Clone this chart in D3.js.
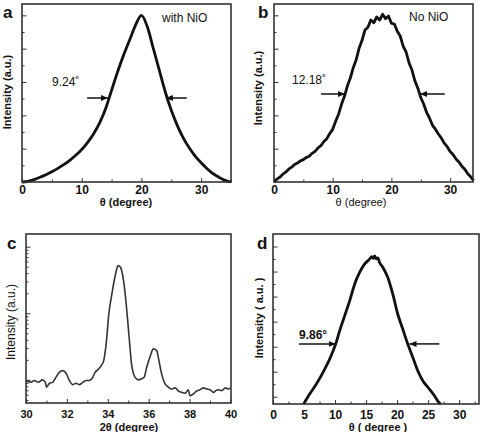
<!DOCTYPE html>
<html>
<head>
<meta charset="utf-8">
<script src="https://cdn.jsdelivr.net/npm/d3@7"></script>
<style>
  body { margin: 0; background: #fff; }
  svg { font-family: "Liberation Sans", Arial, sans-serif; }
</style>
</head>
<body>
<svg id="fig" width="484" height="432"></svg>
<script>
// ---- DATA ----

// a: with NiO
const thetaA = [0,1,2,3,4,5,6,7,8,9,10,11,12,13,14,15,16,17,18,19,20,21,22,23,24,25,26,27,28,29,30,31,32,33,34,35];
const intA = [0,0.04,0.14,0.28,0.44,0.62,0.82,1.04,1.3,1.6,1.95,2.38,2.9,3.55,4.4,5.5,6.6,7.6,8.5,9.4,10.0,
              9.3,8.0,6.7,5.4,4.3,3.4,2.65,2.05,1.55,1.15,0.8,0.5,0.28,0.1,0];

// b: no NiO (noisy trace)
const thetaB = [0,0.5,1,1.5,2,2.5,3,3.5,4,4.5,5,5.5,6,6.5,7,7.5,8,8.5,9,9.5,10,10.5,11,11.5,12,12.5,13,13.5,
                14,14.5,15,15.5,16,16.5,17,17.5,18,18.5,19,19.5,20,20.5,21,21.5,22,22.5,23,23.5,24,24.5,25,
                25.5,26,26.5,27,27.5,28,28.5,29,29.5,30,30.5,31,31.5,32,32.5,33,33.5,34];
const intB = [0,0.17,0.29,0.47,0.59,0.77,0.89,1.05,1.14,1.27,1.34,1.47,1.55,1.72,1.84,2.05,2.18,2.43,2.6,2.91,
              3.16,3.64,4.07,4.66,5.14,5.76,6.24,6.86,7.33,8.03,8.5,9.12,9.28,9.72,9.55,9.9,9.72,10.06,9.8,
              9.96,9.52,9.48,9.04,8.76,8.15,7.8,7.16,6.72,6.07,5.63,5.07,4.68,4.17,3.83,3.4,3.17,2.88,2.64,
              2.33,2.12,1.83,1.65,1.38,1.2,0.95,0.77,0.5,0.32,0.08];

// c: XRD pattern, log intensity
const twoThetaC = [30.0,30.25,30.4,30.6,30.8,30.95,31.0,31.15,31.3,31.47,31.63,31.8,31.96,32.12,32.29,32.45,
                   32.6,32.78,32.94,33.1,33.27,33.38,33.5,33.68,33.8,33.92,34.05,34.2,34.38,34.5,34.62,34.77,
                   34.9,35.0,35.07,35.16,35.33,35.5,35.65,35.78,35.9,36.06,36.23,36.39,36.5,36.63,36.8,36.96,
                   37.12,37.29,37.45,37.61,37.78,37.94,38.02,38.19,38.35,38.51,38.68,38.84,39.0,39.17,39.28,
                   39.41,39.58,39.74,39.9,40.0];
const intC = [9.8,9.2,9.8,9.2,10.0,9.2,7.8,8.9,9.2,11.0,13.0,13.8,12.6,9.8,8.5,8.9,8.5,9.2,9.8,9.8,11.0,13.0,
              14.1,16.4,19.5,34.7,97.7,195,389,519,490,309,138,62,34.7,17.4,11.0,10.0,10.4,11.0,15.5,21.9,
              29.2,27.5,19.5,12.3,8.7,7.8,7.3,7.6,6.8,6.5,6.3,7.1,5.8,6.2,6.8,7.1,7.6,7.3,7.1,6.5,6.9,7.1,
              6.9,7.6,7.3,7.6];

// d
const thetaD = [4.95,5.91,6.99,8.06,9.14,10.1,10.75,11.56,12.37,13.17,13.98,14.78,15.59,15.9,16.13,16.4,16.61,
                16.9,17.15,17.69,18.49,19.3,20.1,20.91,21.72,22.52,23.33,24.14,25.21,26.02,26.83,27.0];
const intD = [0.42,1.21,2.01,2.95,4.01,5.21,6.28,7.48,8.68,10.01,10.95,11.61,12.01,12.2,12.05,12.25,12.01,
              12.1,11.75,11.35,10.55,9.21,7.61,6.41,5.21,4.15,3.08,2.28,1.61,1.08,0.49,0.42];

// tick labels
const xLabelsA = [0, 10, 20, 30];
const xLabelsB = [0, 10, 20, 30];
const xLabelsC = [30, 32, 34, 36, 38, 40];
const xLabelsD = [0, 5, 10, 15, 20, 25, 30];

const svg = d3.select("#fig");

// arrow head marker
svg.append("defs").append("marker")
    .attr("id", "head")
    .attr("markerUnits", "userSpaceOnUse")
    .attr("markerWidth", 8).attr("markerHeight", 6)
    .attr("refX", 7).attr("refY", 3)
    .attr("orient", "auto")
  .append("path")
    .attr("d", "M0,0 L7,3 L0,6 z")
    .attr("fill", "#111");

function drawPanel(p) {
  const g = svg.append("g");

  const x = d3.scaleLinear().domain(p.xDomain).range([p.left, p.right]);
  const y = (p.log ? d3.scaleLog() : d3.scaleLinear())
      .domain(p.yDomain).range([p.bottom, p.top]);

  // minor x ticks
  g.append("g")
      .attr("transform", `translate(0,${p.bottom})`)
      .call(d3.axisBottom(x).tickValues(p.xMinor).tickSize(-2.5).tickFormat(""))
      .call(a => a.select(".domain").remove())
      .call(a => a.selectAll("line").attr("stroke", "#333"));

  // major x ticks + labels
  g.append("g")
      .attr("transform", `translate(0,${p.bottom})`)
      .call(d3.axisBottom(x).tickValues(p.xLabels).tickSize(-4).tickPadding(p.pad))
      .call(a => a.select(".domain").remove())
      .call(a => a.selectAll("line").attr("stroke", "#333"))
      .call(a => a.selectAll("text")
          .attr("font-size", p.tickSize).attr("font-weight", "bold").attr("fill", "#111")
          .attr("font-family", "Liberation Sans, Arial, sans-serif"));

  // y ticks (inward, no labels)
  g.append("g")
      .attr("transform", `translate(${p.left},0)`)
      .call(d3.axisLeft(y).tickValues(p.yMinor).tickSize(-2.5).tickFormat(""))
      .call(a => a.select(".domain").remove())
      .call(a => a.selectAll("line").attr("stroke", "#333"));
  g.append("g")
      .attr("transform", `translate(${p.left},0)`)
      .call(d3.axisLeft(y).tickValues(p.yMajor).tickSize(-4.5).tickFormat(""))
      .call(a => a.select(".domain").remove())
      .call(a => a.selectAll("line").attr("stroke", "#333"));

  // curve
  const pts = p.xs.map((v, i) => [v, p.ys[i]]);
  g.append("path")
      .datum(pts)
      .attr("fill", "none")
      .attr("stroke", p.color)
      .attr("stroke-width", p.lw)
      .attr("stroke-linejoin", "round")
      .attr("d", d3.line().x(d => x(d[0])).y(d => y(d[1])).curve(p.curve));

  // frame
  g.append("rect")
      .attr("x", p.left).attr("y", p.top)
      .attr("width", p.frameRight - p.left).attr("height", p.bottom - p.top)
      .attr("fill", "none").attr("stroke", "#333").attr("stroke-width", 1.6);

  // FWHM arrows
  if (p.arrows) {
    p.arrows.segs.forEach(s => {
      g.append("line")
          .attr("x1", x(s[0])).attr("x2", x(s[1]))
          .attr("y1", y(p.arrows.y)).attr("y2", y(p.arrows.y))
          .attr("stroke", "#111").attr("stroke-width", 1.5)
          .attr("marker-end", "url(#head)");
    });
  }

  // texts
  p.texts.forEach(t => {
    const el = g.append("text")
        .attr("x", t.x).attr("y", t.y)
        .attr("font-size", t.size)
        .attr("font-weight", t.bold ? "bold" : "normal")
        .attr("fill", "#111")
        .attr("text-anchor", t.anchor || "start")
        .text(t.text);
    if (t.rotate) el.attr("transform", `rotate(-90,${t.x},${t.y})`);
  });
}

// a
drawPanel({
  left: 22, right: 231, frameRight: 231, top: 4, bottom: 182,
  xDomain: [0, 35], yDomain: [0, 10.68],
  xLabels: xLabelsA, xMinor: [5, 15, 25, 35], pad: 3, tickSize: 12,
  yMajor: [2, 4, 6, 8, 10], yMinor: [1, 3, 5, 7, 9],
  xs: thetaA, ys: intA, color: "#111", lw: 2.8, curve: d3.curveMonotoneX,
  arrows: { y: 5.04, segs: [[10.9, 14.4], [27.6, 24.1]] },
  texts: [
    { x: 3, y: 18, size: 17, bold: true, text: "a" },
    { x: 162, y: 22, size: 12, text: "with NiO" },
    { x: 52, y: 86, size: 12, text: "9.24˚" },
    { x: 126, y: 206, size: 11, bold: true, anchor: "middle", text: "θ (degree)" },
    { x: 11, y: 92, size: 11, bold: true, anchor: "middle", rotate: true, text: "Intensity (a.u.)" }
  ]
});

// b
drawPanel({
  left: 274, right: 473, frameRight: 473, top: 4, bottom: 182,
  xDomain: [0, 33.9], yDomain: [0, 10.68],
  xLabels: xLabelsB, xMinor: [5, 15, 25], pad: 3, tickSize: 12,
  yMajor: [2, 4, 6, 8, 10], yMinor: [1, 3, 5, 7, 9],
  xs: thetaB, ys: intB, color: "#111", lw: 2.8, curve: d3.curveLinear,
  arrows: { y: 5.28, segs: [[8.0, 12.1], [29.1, 24.9]] },
  texts: [
    { x: 258, y: 18, size: 17, bold: true, text: "b" },
    { x: 409, y: 21, size: 12, text: "No NiO" },
    { x: 292, y: 84, size: 12, text: "12.18˚" },
    { x: 361, y: 206, size: 11, anchor: "middle", text: "θ (degree)" },
    { x: 262, y: 88, size: 11, bold: true, anchor: "middle", rotate: true, text: "Intensity (a.u.)" }
  ]
});

// c (log intensity axis)
const yLogTicks = d3.scaleLog().domain([4.5, 1550]).ticks();
drawPanel({
  left: 26, right: 230.5, frameRight: 231, top: 234, bottom: 403,
  xDomain: [30, 40], yDomain: [4.5, 1550], log: true,
  xLabels: xLabelsC, xMinor: [31, 33, 35, 37, 39], pad: 7, tickSize: 11,
  yMajor: [10, 100, 1000], yMinor: yLogTicks.filter(v => ![10, 100, 1000].includes(v)),
  xs: twoThetaC, ys: intC, color: "#333", lw: 1.6, curve: d3.curveMonotoneX,
  texts: [
    { x: 7, y: 249, size: 17, bold: true, text: "c" },
    { x: 129, y: 431, size: 11, bold: true, anchor: "middle", text: "2θ (degree)" },
    { x: 15, y: 322, size: 12, anchor: "middle", rotate: true, text: "Intensity (a.u.)" }
  ]
});

// d
drawPanel({
  left: 273, right: 479, frameRight: 479, top: 234, bottom: 404,
  xDomain: [0, 33.2], yDomain: [0.42, 14.0],
  xLabels: xLabelsD, xMinor: [2.5, 7.5, 12.5, 17.5, 22.5, 27.5, 32.5], pad: 6, tickSize: 12,
  yMajor: [1, 3, 5, 7, 9, 11, 13], yMinor: [2, 4, 6, 8, 10, 12],
  xs: thetaD, ys: intD, color: "#111", lw: 2.8, curve: d3.curveMonotoneX,
  arrows: { y: 5.22, segs: [[4.19, 10.1], [26.8, 22.0]] },
  texts: [
    { x: 257, y: 249, size: 17, bold: true, text: "d" },
    { x: 299, y: 339, size: 12, bold: true, text: "9.86°" },
    { x: 378, y: 431, size: 11, bold: true, anchor: "middle", text: "θ ( degree )" },
    { x: 263, y: 318, size: 11, bold: true, anchor: "middle", rotate: true, text: "Intensity ( a.u. )" }
  ]
});
</script>
</body>
</html>
